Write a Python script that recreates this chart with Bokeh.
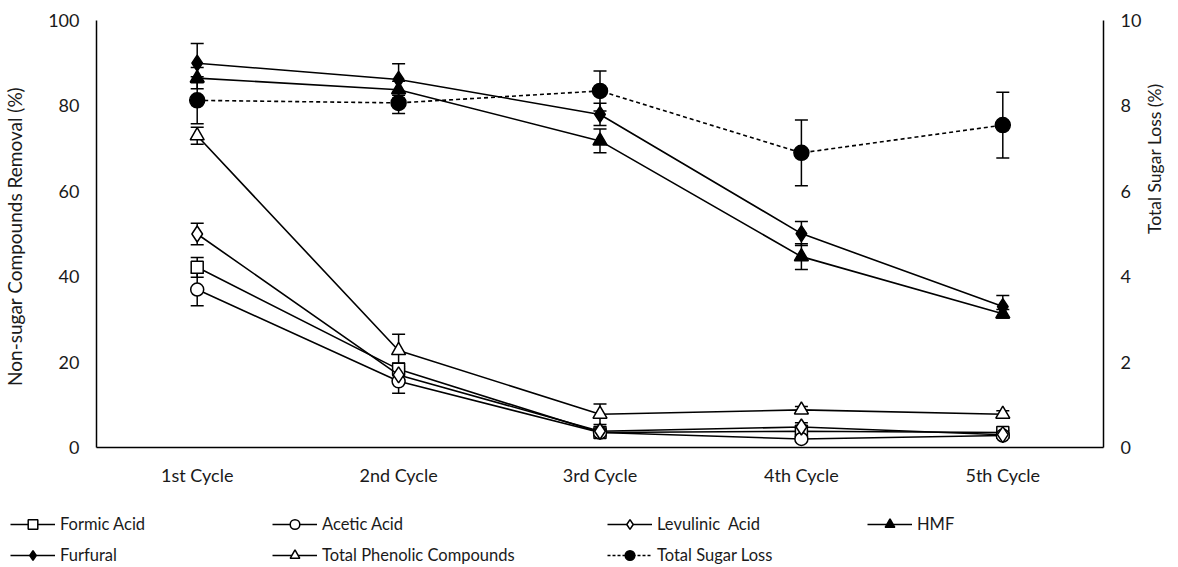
import math
from bokeh.plotting import figure
from bokeh.models import (ColumnDataSource, Range1d, LinearAxis, FixedTicker,
                          Whisker, TeeHead, Legend, LegendItem, FactorRange)
from bokeh.embed import file_html
from bokeh.resources import INLINE

cycles = ["1st Cycle", "2nd Cycle", "3rd Cycle", "4th Cycle", "5th Cycle"]

formic = [42.2, 18.3, 3.5, 3.8, 3.5]
formic_err = [2.3, 1.5, 0.8, 0.8, 0.5]
acetic = [37.0, 15.5, 3.5, 2.0, 2.8]
acetic_err = [3.8, 2.8, 0.6, 0.5, 0.5]
levulinic = [50.0, 17.0, 3.8, 4.8, 3.0]
levulinic_err = [2.5, 1.5, 0.6, 1.0, 0.5]
hmf = [86.5, 83.8, 71.8, 44.7, 31.3]
hmf_err = [2.5, 2.0, 2.8, 3.0, 1.0]
furfural = [90.0, 86.2, 78.0, 50.1, 33.0]
furfural_err = [4.6, 3.7, 2.6, 2.8, 2.6]
phenolic = [73.0, 22.7, 7.8, 8.8, 7.8]
phenolic_err = [2.0, 3.8, 2.4, 0.8, 0.8]
sugar = [8.13, 8.07, 8.35, 6.90, 7.55]
sugar_err = [0.55, 0.25, 0.47, 0.77, 0.77]

FONT = "Lato"
TXT = "#1a1a1a"
W = 1178

p = figure(x_range=FactorRange(*cycles), y_range=Range1d(0, 100),
           width=W, height=495, output_backend="svg", toolbar_location=None,
           min_border_left=96, min_border_right=74, min_border_top=20,
           min_border_bottom=48)
p.extra_y_ranges = {"y2": Range1d(0, 10)}
p.outline_line_color = None
p.xgrid.grid_line_color = None
p.ygrid.grid_line_color = None

def style_axis(ax):
    ax.axis_line_color = "black"
    ax.axis_line_width = 1.5
    ax.major_tick_line_color = None
    ax.minor_tick_line_color = None
    ax.major_tick_out = 0
    ax.major_tick_in = 0
    ax.minor_tick_out = 0
    ax.minor_tick_in = 0
    ax.major_label_text_font = FONT
    ax.major_label_text_font_size = "18px"
    ax.major_label_text_color = TXT
    ax.axis_label_text_font = FONT
    ax.axis_label_text_font_size = "19px"
    ax.axis_label_text_font_style = "normal"
    ax.axis_label_text_color = TXT

yl = p.yaxis[0]
yl.ticker = FixedTicker(ticks=[0, 20, 40, 60, 80, 100])
yl.axis_label = "Non-sugar Compounds  Removal (%)"
yl.major_label_standoff = 17
yl.axis_label_standoff = 19
style_axis(yl)

xa = p.xaxis[0]
xa.major_label_standoff = 16
style_axis(xa)

# right title reads bottom-to-top, starting at the axis middle (as in the original)
yr = LinearAxis(y_range_name="y2", ticker=FixedTicker(ticks=[0, 2, 4, 6, 8, 10]),
                axis_label="Total Sugar Loss (%)")
yr.major_label_standoff = 17
yr.axis_label_standoff = 10
style_axis(yr)
yr.axis_label_text_font_size = "17.5px"
yr.axis_label_orientation = math.pi / 2
p.add_layout(yr, "right")

# legend-only figure underneath (separate root, so frames are not aligned)
q = figure(width=W, height=72, output_backend="svg", toolbar_location=None,
           x_range=Range1d(0, 1), y_range=Range1d(0, 1),
           x_axis_type=None, y_axis_type=None,
           min_border_left=0, min_border_right=0, min_border_top=0,
           min_border_bottom=0)
q.outline_line_color = None
q.xgrid.grid_line_color = None
q.ygrid.grid_line_color = None

series = [
    ("Formic Acid", formic, formic_err, "square", "white", 12, None, "default"),
    ("Acetic Acid", acetic, acetic_err, "circle", "white", 13, None, "default"),
    ("Levulinic  Acid", levulinic, levulinic_err, "diamond", "white", 16, None, "default"),
    ("HMF", hmf, hmf_err, "triangle", "black", 14, None, "default"),
    ("Furfural", furfural, furfural_err, "diamond", "black", 16, None, "default"),
    ("Total Phenolic Compounds", phenolic, phenolic_err, "triangle", "white", 14, None, "default"),
    ("Total Sugar Loss", sugar, sugar_err, "circle", "black", 15, "4 3", "y2"),
]

leg_items = {}
for name, vals, errs, marker, fill, size, dash, rng in series:
    src = ColumnDataSource(dict(
        x=cycles, y=vals,
        upper=[v + e for v, e in zip(vals, errs)],
        lower=[v - e for v, e in zip(vals, errs)],
    ))
    kw = {}
    if rng != "default":
        kw["y_range_name"] = rng
    ldash = dash if dash else "solid"
    p.line("x", "y", source=src, line_color="black", line_width=1.6,
           line_dash=ldash, **kw)
    w = Whisker(base="x", upper="upper", lower="lower", source=src,
                line_color="black", line_width=1.5,
                upper_head=TeeHead(size=13, line_width=1.5, line_color="black"),
                lower_head=TeeHead(size=13, line_width=1.5, line_color="black"),
                **kw)
    p.add_layout(w)
    p.scatter("x", "y", source=src, marker=marker, size=size,
              fill_color=fill, line_color="black", line_width=1.5, **kw)
    # legend proxies: same styles, points placed outside the visible range
    proxy = ColumnDataSource(dict(x=[-5, -4], y=[-5, -5]))
    ql = q.line("x", "y", source=proxy, line_color="black", line_width=1.6,
                line_dash="3 2" if dash else "solid")
    qs = q.scatter("x", "y", source=proxy, marker=marker, size=size,
                   fill_color=fill, line_color="black", line_width=1.5)
    leg_items[name] = LegendItem(label=name, renderers=[ql, qs])

columns = [
    (10, ["Formic Acid", "Furfural"]),
    (272, ["Acetic Acid", "Total Phenolic Compounds"]),
    (607, ["Levulinic  Acid", "Total Sugar Loss"]),
    (867, ["HMF"]),
]
for xpos, names in columns:
    vy = 0 if len(names) == 2 else 31
    lg = Legend(items=[leg_items[n] for n in names], location=(xpos, vy),
                orientation="vertical", glyph_width=45, glyph_height=24,
                label_standoff=5, label_height=24, spacing=7, padding=0,
                margin=0, border_line_color=None, background_fill_alpha=0,
                label_text_font=FONT, label_text_font_size="16.5px",
                label_text_color=TXT)
    q.add_layout(lg, "center")

open("out.html", "w").write(file_html([p, q], INLINE))
